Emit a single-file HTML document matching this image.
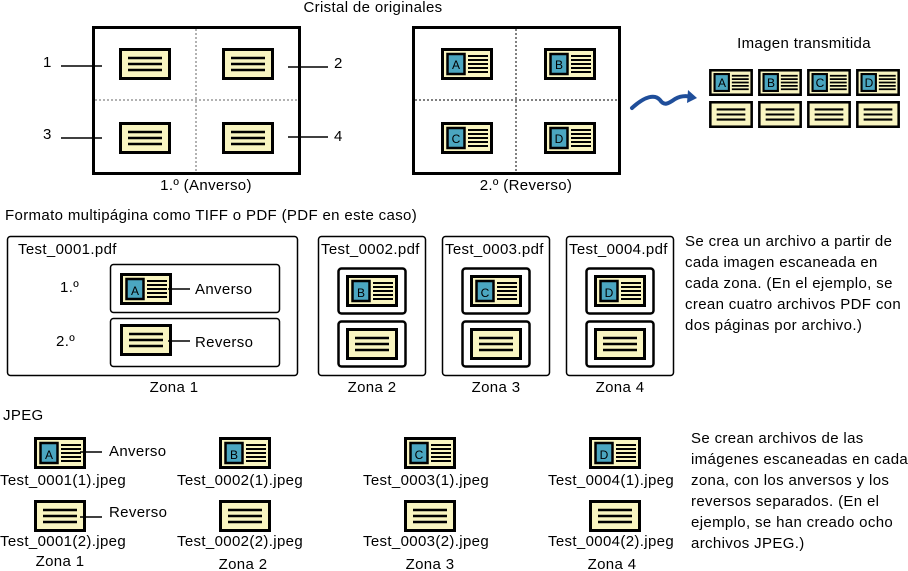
<!DOCTYPE html>
<html><head><meta charset="utf-8"><style>
html,body{margin:0;padding:0;background:#fff;}
svg{display:block;font-family:"Liberation Sans",Arial,sans-serif;}
</style></head><body>
<svg width="908" height="571" viewBox="0 0 908 571" xmlns="http://www.w3.org/2000/svg">
<defs>
<symbol id="p" viewBox="0 0 52 32">
<rect x="1.5" y="1.5" width="49" height="29" fill="#f9f5c1" stroke="#000" stroke-width="3"/>
<g stroke="#000" stroke-width="2.5"><line x1="9" y1="10" x2="43" y2="10"/><line x1="9" y1="16" x2="43" y2="16"/><line x1="9" y1="22" x2="43" y2="22"/></g>
</symbol>
<symbol id="l" viewBox="0 0 52 32">
<rect x="1.5" y="1.5" width="49" height="29" fill="#f9f5c1" stroke="#000" stroke-width="3"/>
<rect x="6.5" y="6" width="17" height="20" fill="#4ba6c0" stroke="#000" stroke-width="2.5"/>
<g stroke="#000" stroke-width="2"><line x1="27" y1="8" x2="47" y2="8"/><line x1="27" y1="12" x2="47" y2="12"/><line x1="27" y1="16" x2="47" y2="16"/><line x1="27" y1="20" x2="47" y2="20"/><line x1="27" y1="24" x2="47" y2="24"/></g>
</symbol>
</defs>
<g font-size="15" letter-spacing="0.35" fill="#000">
<!-- Top section -->
<text x="373" y="12" text-anchor="middle">Cristal de originales</text>
<rect x="93.5" y="27.5" width="206" height="146" fill="#fff" stroke="#000" stroke-width="3"/>
<g stroke="#666" stroke-width="1" stroke-dasharray="2,2"><line x1="196" y1="29" x2="196" y2="172"/><line x1="95" y1="100" x2="298" y2="100"/></g>
<use href="#p" x="119" y="48" width="52" height="32"/>
<use href="#p" x="222" y="48" width="52" height="32"/>
<use href="#p" x="119" y="122" width="52" height="32"/>
<use href="#p" x="222" y="122" width="52" height="32"/>
<g stroke="#000" stroke-width="1.5"><line x1="61" y1="66" x2="102" y2="66"/><line x1="288" y1="67" x2="328" y2="67"/><line x1="61" y1="138" x2="102" y2="138"/><line x1="288" y1="137" x2="328" y2="137"/></g>
<text x="43" y="67">1</text><text x="334" y="68">2</text><text x="43" y="139">3</text><text x="334" y="141">4</text>
<text x="206" y="190" text-anchor="middle">1.º (Anverso)</text>

<rect x="413.5" y="27.5" width="206" height="146" fill="#fff" stroke="#000" stroke-width="3"/>
<g stroke="#000" stroke-width="1" stroke-dasharray="2,2"><line x1="516" y1="29" x2="516" y2="172"/><line x1="415" y1="100" x2="618" y2="100"/></g>
<use href="#l" x="441" y="48" width="52" height="32"/>
<use href="#l" x="544" y="48" width="52" height="32"/>
<use href="#l" x="441" y="122" width="52" height="32"/>
<use href="#l" x="544" y="122" width="52" height="32"/>
<g font-size="12" letter-spacing="0" text-anchor="middle"><text x="456" y="69">A</text><text x="559" y="69">B</text><text x="456" y="143">C</text><text x="559" y="143">D</text></g>
<text x="526" y="190" text-anchor="middle">2.º (Reverso)</text>

<path d="M632,108 C645,96 655,94 660,100 C664,106 668,104 675,99 C682,95 688,96 692,97" fill="none" stroke="#1f4e9a" stroke-width="4" stroke-linecap="round"/>
<path d="M688,90 L697,98 L687,103 Z" fill="#1f4e9a"/>
<text x="804" y="48" text-anchor="middle">Imagen transmitida</text>
<use href="#l" x="709" y="69" width="44" height="27" preserveAspectRatio="none"/>
<use href="#l" x="758" y="69" width="44" height="27" preserveAspectRatio="none"/>
<use href="#l" x="807" y="69" width="44" height="27" preserveAspectRatio="none"/>
<use href="#l" x="856" y="69" width="44" height="27" preserveAspectRatio="none"/>
<g font-size="12" letter-spacing="0" text-anchor="middle"><text x="722" y="87">A</text><text x="771" y="87">B</text><text x="820" y="87">C</text><text x="869" y="87">D</text></g>
<use href="#p" x="709" y="101" width="44" height="27" preserveAspectRatio="none"/>
<use href="#p" x="758" y="101" width="44" height="27" preserveAspectRatio="none"/>
<use href="#p" x="807" y="101" width="44" height="27" preserveAspectRatio="none"/>
<use href="#p" x="856" y="101" width="44" height="27" preserveAspectRatio="none"/>

<!-- Middle section -->
<text x="5" y="220">Formato multipágina como TIFF o PDF (PDF en este caso)</text>
<rect x="7.5" y="236.5" width="290" height="139" rx="3" fill="none" stroke="#000" stroke-width="1.5"/>
<text x="18" y="254">Test_0001.pdf</text>
<rect x="110.5" y="264.5" width="169" height="48" rx="3" fill="none" stroke="#000" stroke-width="1.5"/>
<rect x="110.5" y="318.5" width="169" height="48" rx="3" fill="none" stroke="#000" stroke-width="1.5"/>
<use href="#l" x="120" y="273" width="52" height="32"/>
<text x="135" y="295" font-size="12" letter-spacing="0" text-anchor="middle">A</text>
<use href="#p" x="120" y="324" width="52" height="32"/>
<g stroke="#000" stroke-width="1.5"><line x1="168" y1="289" x2="190" y2="289"/><line x1="168" y1="341" x2="190" y2="341"/></g>
<text x="195" y="294">Anverso</text><text x="195" y="347">Reverso</text>
<text x="60" y="292">1.º</text><text x="56" y="346">2.º</text>
<text x="174" y="392" text-anchor="middle">Zona 1</text>

<rect x="318.5" y="236.5" width="107" height="139" rx="3" fill="none" stroke="#000" stroke-width="1.5"/>
<text x="321" y="254">Test_0002.pdf</text>
<rect x="338.5" y="268.5" width="67" height="45" rx="3" fill="none" stroke="#000" stroke-width="2.5"/>
<rect x="338.5" y="321.5" width="67" height="45" rx="3" fill="none" stroke="#000" stroke-width="2.5"/>
<use href="#l" x="346" y="275" width="52" height="32"/><text x="361" y="297" font-size="12" letter-spacing="0" text-anchor="middle">B</text>
<use href="#p" x="346" y="328" width="52" height="32"/>
<text x="372" y="392" text-anchor="middle">Zona 2</text>

<rect x="442.5" y="236.5" width="107" height="139" rx="3" fill="none" stroke="#000" stroke-width="1.5"/>
<text x="445" y="254">Test_0003.pdf</text>
<rect x="462.5" y="268.5" width="67" height="45" rx="3" fill="none" stroke="#000" stroke-width="2.5"/>
<rect x="462.5" y="321.5" width="67" height="45" rx="3" fill="none" stroke="#000" stroke-width="2.5"/>
<use href="#l" x="470" y="275" width="52" height="32"/><text x="485" y="297" font-size="12" letter-spacing="0" text-anchor="middle">C</text>
<use href="#p" x="470" y="328" width="52" height="32"/>
<text x="496" y="392" text-anchor="middle">Zona 3</text>

<rect x="566.5" y="236.5" width="107" height="139" rx="3" fill="none" stroke="#000" stroke-width="1.5"/>
<text x="569" y="254">Test_0004.pdf</text>
<rect x="586.5" y="268.5" width="67" height="45" rx="3" fill="none" stroke="#000" stroke-width="2.5"/>
<rect x="586.5" y="321.5" width="67" height="45" rx="3" fill="none" stroke="#000" stroke-width="2.5"/>
<use href="#l" x="594" y="275" width="52" height="32"/><text x="609" y="297" font-size="12" letter-spacing="0" text-anchor="middle">D</text>
<use href="#p" x="594" y="328" width="52" height="32"/>
<text x="620" y="392" text-anchor="middle">Zona 4</text>

<text x="685" y="246">Se crea un archivo a partir de</text>
<text x="685" y="267">cada imagen escaneada en</text>
<text x="685" y="288">cada zona. (En el ejemplo, se</text>
<text x="685" y="309">crean cuatro archivos PDF con</text>
<text x="685" y="330">dos páginas por archivo.)</text>

<!-- JPEG section -->
<text x="3" y="420">JPEG</text>
<use href="#l" x="34" y="437" width="52" height="32"/><text x="49" y="459" font-size="12" letter-spacing="0" text-anchor="middle">A</text>
<use href="#l" x="219" y="437" width="52" height="32"/><text x="234" y="459" font-size="12" letter-spacing="0" text-anchor="middle">B</text>
<use href="#l" x="404" y="437" width="52" height="32"/><text x="419" y="459" font-size="12" letter-spacing="0" text-anchor="middle">C</text>
<use href="#l" x="589" y="437" width="52" height="32"/><text x="604" y="459" font-size="12" letter-spacing="0" text-anchor="middle">D</text>
<use href="#p" x="34" y="500" width="52" height="32"/>
<use href="#p" x="219" y="500" width="52" height="32"/>
<use href="#p" x="404" y="500" width="52" height="32"/>
<use href="#p" x="589" y="500" width="52" height="32"/>
<g stroke="#000" stroke-width="1.5"><line x1="80" y1="452" x2="102" y2="452"/><line x1="80" y1="517" x2="102" y2="517"/></g>
<text x="109" y="456">Anverso</text><text x="109" y="517">Reverso</text>
<g text-anchor="middle">
<text x="63" y="485">Test_0001(1).jpeg</text><text x="240" y="485">Test_0002(1).jpeg</text><text x="426" y="485">Test_0003(1).jpeg</text><text x="611" y="485">Test_0004(1).jpeg</text>
<text x="63" y="546">Test_0001(2).jpeg</text><text x="240" y="546">Test_0002(2).jpeg</text><text x="426" y="546">Test_0003(2).jpeg</text><text x="611" y="546">Test_0004(2).jpeg</text>
<text x="60" y="566">Zona 1</text><text x="243" y="569">Zona 2</text><text x="430" y="569">Zona 3</text><text x="612" y="569">Zona 4</text>
</g>
<text x="691" y="443">Se crean archivos de las</text>
<text x="691" y="464">imágenes escaneadas en cada</text>
<text x="691" y="485">zona, con los anversos y los</text>
<text x="691" y="506">reversos separados. (En el</text>
<text x="691" y="527">ejemplo, se han creado ocho</text>
<text x="691" y="548">archivos JPEG.)</text>
</g>
</svg>
</body></html>
